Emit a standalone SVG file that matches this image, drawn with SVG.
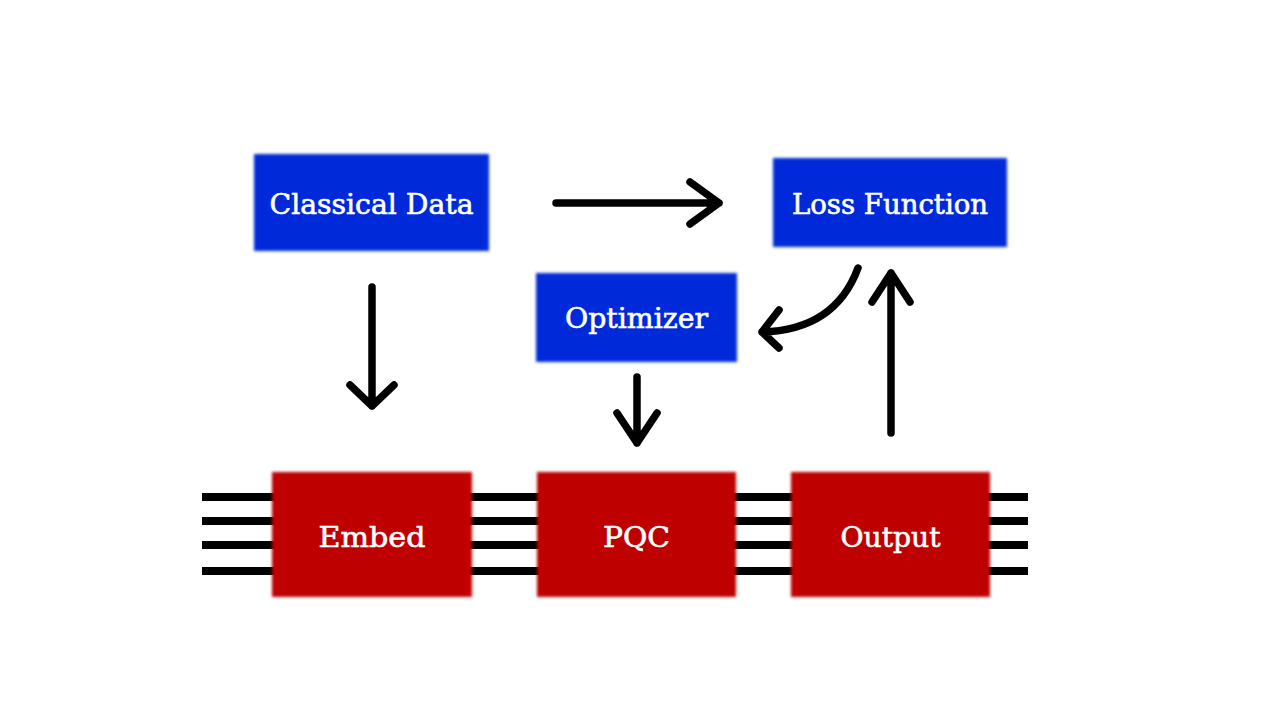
<svg xmlns="http://www.w3.org/2000/svg" width="1280" height="720" viewBox="0 0 1280 720">
<defs>
<filter id="soft" x="-5%" y="-5%" width="110%" height="110%"><feGaussianBlur stdDeviation="1.6"/></filter>
<style>
.blue{fill:#0429D9}
.red{fill:#BF0000}
.lbl{font-family:"DejaVu Serif","Liberation Serif",serif;fill:#fff;stroke:#fff;stroke-width:0.6;text-anchor:middle;font-size:27px}
.wire{stroke:#000;stroke-width:8;fill:none}
.arr{stroke:#000;stroke-width:7.5;fill:none;stroke-linecap:round;stroke-linejoin:round}
</style>
</defs>
<rect width="1280" height="720" fill="#fff"/>
<g id="wires">
<line class="wire" x1="202" y1="497" x2="1028" y2="497"/>
<line class="wire" x1="202" y1="521" x2="1028" y2="521"/>
<line class="wire" x1="202" y1="545" x2="1028" y2="545"/>
<line class="wire" x1="202" y1="571" x2="1028" y2="571"/>
</g>
<g id="classical-data">
<rect class="blue" x="254" y="154" width="235" height="97" filter="url(#soft)"/>
<text class="lbl" x="371.5" y="214" textLength="204" lengthAdjust="spacingAndGlyphs">Classical Data</text>
</g>
<g id="loss-function">
<rect class="blue" x="773" y="158" width="234" height="89" filter="url(#soft)"/>
<text class="lbl" x="890" y="214" textLength="196" lengthAdjust="spacingAndGlyphs">Loss Function</text>
</g>
<g id="optimizer">
<rect class="blue" x="536" y="273" width="201" height="89" filter="url(#soft)"/>
<text class="lbl" x="636.5" y="328" textLength="143" lengthAdjust="spacingAndGlyphs">Optimizer</text>
</g>
<g id="embed">
<rect class="red" x="272" y="472" width="200" height="125" filter="url(#soft)"/>
<text class="lbl" x="372" y="547" font-size="29" textLength="107" lengthAdjust="spacingAndGlyphs">Embed</text>
</g>
<g id="pqc">
<rect class="red" x="537" y="472" width="199" height="125" filter="url(#soft)"/>
<text class="lbl" x="636.5" y="547" font-size="29" textLength="67" lengthAdjust="spacingAndGlyphs">PQC</text>
</g>
<g id="output">
<rect class="red" x="791" y="472" width="199" height="125" filter="url(#soft)"/>
<text class="lbl" x="890.5" y="547" font-size="29" textLength="100" lengthAdjust="spacingAndGlyphs">Output</text>
</g>
<g id="connectors">
<path class="arr" d="M556 203 H719 M690 182 L719 203 L690 224"/>
<path class="arr" d="M372 287 V406 M350 385 L372 406 L394 385"/>
<path class="arr" d="M637 377 V443 M617 413 L637 443 L657 413"/>
<path class="arr" d="M891 433 V273 M872 302 L891 273 L910 302"/>
<path class="arr" d="M858 268 Q835 330 762 332 M779 310 L762 332 L779 348"/>
</g>
</svg>
